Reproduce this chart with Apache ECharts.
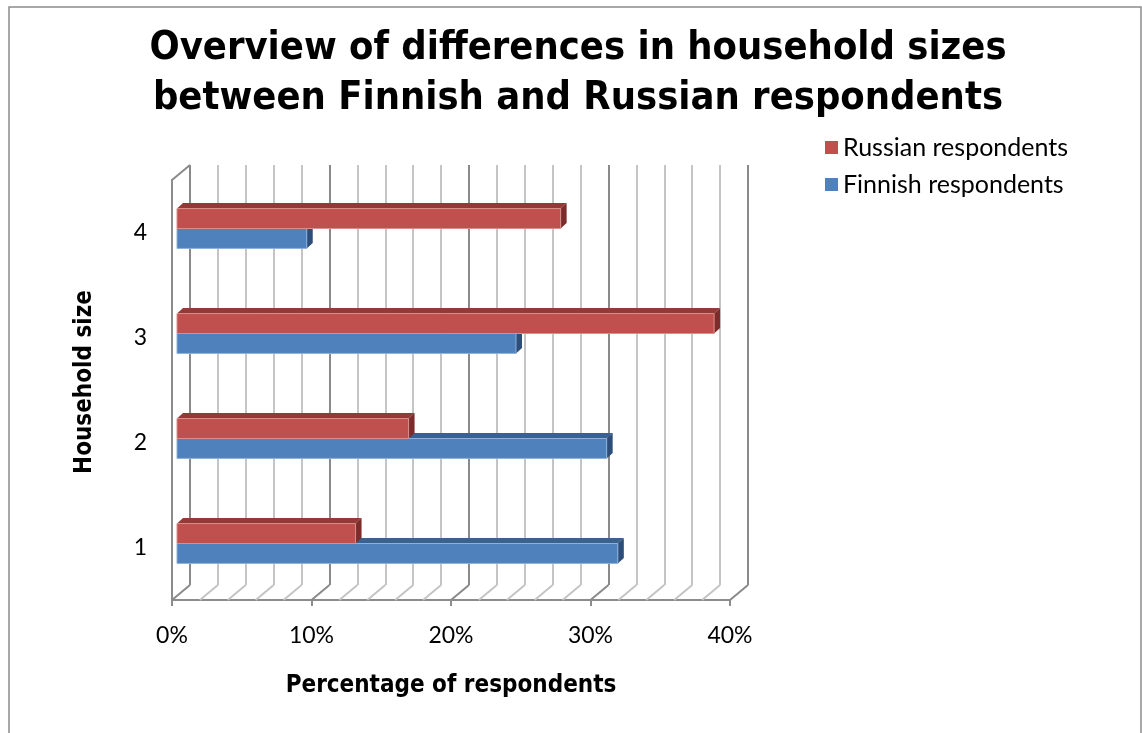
<!DOCTYPE html>
<html>
<head>
<meta charset="utf-8">
<script src="https://cdn.jsdelivr.net/npm/echarts@6/dist/echarts.min.js"></script>
<style>
  html, body { margin: 0; padding: 0; background: #fff; }
  #chart { width: 1142px; height: 733px; }
</style>
</head>
<body>
<div id="chart"></div>
<script>
// Household size categories (bottom to top)
var categories = ['1', '2', '3', '4'];
// Share of respondents per household size, in percent
var russianValues = [12.8, 16.6, 38.5, 27.5];
var finnishValues = [31.6, 30.8, 24.3, 9.3];
// Value axis ticks
var axisMin = 0;
var axisMax = 40;
var axisStep = 10;
var floorTicks = [0, 2, 4, 6, 8, 10, 12, 14, 16, 18, 20, 22, 24, 26, 28, 30, 32, 34, 36, 38, 40];

var seriesNames = ['Russian respondents', 'Finnish respondents'];

// depth of the 3D box (back wall offset from the front plane)
var DEPTH_X = 18, DEPTH_Y = -15;
// bars sit a little behind the front plane
var BAR_DX = 5, BAR_DY = -4;
// extrusion of each bar
var EXT_X = 6, EXT_Y = -5.5;

var palette = {
  red:  { front: '#C0504D', top: '#933936', side: '#7C2D2B', edge: '#D98E8C' },
  blue: { front: '#4F81BD', top: '#3A6192', side: '#2C4E78', edge: '#8FB0D8' }
};

var sideFont = "'DejaVu Sans Condensed', 'DejaVu Sans', sans-serif";
var bodyFont = "Lato, 'Open Sans', sans-serif";

function barRenderer(colors, upper) {
  return function (params, api) {
    var v = api.value(0);
    var cat = api.value(1);
    var p0 = api.coord([0, cat]);
    var p1 = api.coord([v, cat]);
    var band = api.size([0, 1])[1];
    var h = band * 0.19;
    var cy = p0[1] + BAR_DY;
    var x0 = p0[0] + BAR_DX;
    var x1 = p1[0] + BAR_DX;
    var yTop = upper ? cy - h : cy;
    var yBot = yTop + h;
    return {
      type: 'group',
      children: [
        {
          type: 'polygon',
          shape: { points: [[x0, yTop], [x1, yTop], [x1 + EXT_X, yTop + EXT_Y], [x0 + EXT_X, yTop + EXT_Y]] },
          style: { fill: colors.top }
        },
        {
          type: 'polygon',
          shape: { points: [[x1, yTop], [x1 + EXT_X, yTop + EXT_Y], [x1 + EXT_X, yBot + EXT_Y], [x1, yBot]] },
          style: { fill: colors.side }
        },
        {
          type: 'rect',
          shape: { x: x0, y: yTop, width: x1 - x0, height: h },
          style: { fill: colors.front, stroke: colors.edge, lineWidth: 1 }
        }
      ]
    };
  };
}

function toPairs(values) {
  return values.map(function (v, i) { return [v, i]; });
}

var chart = echarts.init(document.getElementById('chart'), null, { renderer: 'canvas' });

var option = {
  backgroundColor: '#ffffff',
  animation: false,
  title: {
    text: 'Overview of differences in household sizes\nbetween Finnish and Russian respondents',
    left: 578,
    top: 24,
    padding: 0,
    textAlign: 'center',
    textStyle: {
      fontFamily: sideFont,
      fontWeight: 'bold',
      fontSize: 39.5,
      lineHeight: 50,
      color: '#000'
    }
  },
  legend: {
    orient: 'vertical',
    left: 820,
    top: 130,
    itemWidth: 13,
    itemHeight: 13,
    itemGap: 12,
    icon: 'rect',
    data: seriesNames,
    textStyle: { fontFamily: bodyFont, fontSize: 25, color: '#000' }
  },
  graphic: [
    {
      type: 'rect',
      shape: { x: 9, y: 7, width: 1132, height: 760 },
      style: { fill: null, stroke: '#8C8C8C', lineWidth: 1.5 },
      silent: true
    }
  ],
  grid: [
    { left: 172, top: 180, width: 558, height: 420, containLabel: false },
    { left: 172 + DEPTH_X, top: 180 + DEPTH_Y, width: 558, height: 420, containLabel: false }
  ],
  xAxis: [
    {
      type: 'value', gridIndex: 0, min: axisMin, max: axisMax, interval: axisStep,
      name: 'Percentage of respondents',
      nameLocation: 'middle',
      nameGap: 74,
      nameTextStyle: { fontFamily: sideFont, fontWeight: 'bold', fontSize: 24, color: '#000' },
      axisLine: { show: true, lineStyle: { color: '#8C8C8C', width: 2 } },
      axisTick: { show: true, inside: false, length: 6, lineStyle: { color: '#8C8C8C', width: 2 } },
      axisLabel: { formatter: '{value}%', margin: 24, fontFamily: bodyFont, fontSize: 23, color: '#000' },
      splitLine: { show: false }
    },
    {
      type: 'value', gridIndex: 1, min: axisMin, max: axisMax, interval: axisStep,
      axisLine: { show: false },
      axisTick: { show: false },
      axisLabel: { show: false },
      splitLine: { show: true, lineStyle: { color: '#8A8A8A', width: 2 } },
      minorTick: { show: false, splitNumber: 5 },
      minorSplitLine: { show: true, lineStyle: { color: '#C4C4C4', width: 2 } }
    }
  ],
  yAxis: [
    {
      type: 'category', gridIndex: 0, data: categories,
      name: 'Household size',
      nameLocation: 'middle',
      nameGap: 75,
      nameRotate: 90,
      nameTextStyle: { fontFamily: sideFont, fontWeight: 'bold', fontSize: 24, color: '#000', padding: [0, 0, 0, 16] },
      axisLine: { show: true, lineStyle: { color: '#8C8C8C', width: 2 } },
      axisTick: { show: false },
      axisLabel: { margin: 25, fontFamily: bodyFont, fontSize: 23, color: '#000' },
      splitLine: { show: false }
    },
    {
      type: 'category', gridIndex: 1, data: categories,
      axisLine: { show: false }, axisTick: { show: false }, axisLabel: { show: false },
      splitLine: { show: false }
    }
  ],
  series: [
    {
      // floor lines and left wall edges linking the front plane to the back wall
      type: 'custom',
      name: 'floor',
      xAxisIndex: 0, yAxisIndex: 0,
      silent: true,
      z: 1,
      data: floorTicks.map(function (t) { return [t, 0]; }),
      renderItem: function (params, api) {
        var v = api.value(0);
        var x = api.coord([v, 0])[0];
        var cs = params.coordSys;
        var yb = cs.y + cs.height;
        var major = v % axisStep === 0;
        var children = [{
          type: 'line',
          shape: { x1: x, y1: yb, x2: x + DEPTH_X, y2: yb + DEPTH_Y },
          style: { stroke: major ? '#8A8A8A' : '#C4C4C4', lineWidth: 2 }
        }];
        if (v === axisMin) {
          children.push({
            type: 'line',
            shape: { x1: x, y1: cs.y, x2: x + DEPTH_X, y2: cs.y + DEPTH_Y },
            style: { stroke: '#8A8A8A', lineWidth: 2 }
          });
        }
        return { type: 'group', children: children };
      }
    },
    {
      type: 'custom',
      name: seriesNames[1],
      xAxisIndex: 0, yAxisIndex: 0,
      itemStyle: { color: palette.blue.front },
      z: 3,
      data: toPairs(finnishValues),
      renderItem: barRenderer(palette.blue, false)
    },
    {
      type: 'custom',
      name: seriesNames[0],
      xAxisIndex: 0, yAxisIndex: 0,
      itemStyle: { color: palette.red.front },
      z: 4,
      data: toPairs(russianValues),
      renderItem: barRenderer(palette.red, true)
    }
  ]
};

chart.setOption(option);
</script>
</body>
</html>
